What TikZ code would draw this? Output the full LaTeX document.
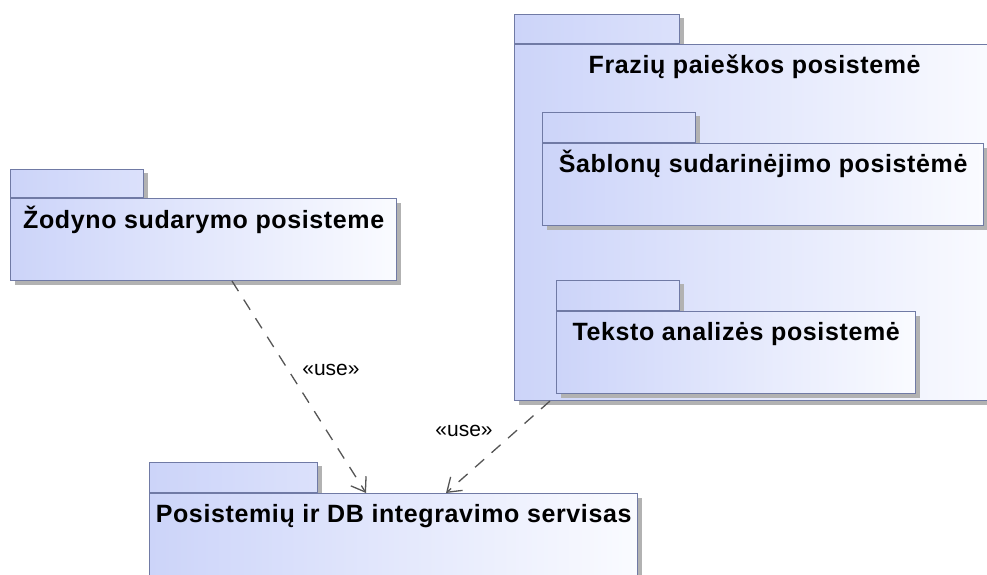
\documentclass[tikz,border=0pt]{standalone}
\usepackage{fontspec}
\setmainfont{Liberation Sans}
\usetikzlibrary{arrows.meta,shadows,positioning}

\definecolor{pkgline}{RGB}{112,122,165}
\definecolor{pkgfill}{RGB}{204,212,249}
\definecolor{pkglight}{RGB}{250,251,255}
\definecolor{useline}{RGB}{85,85,85}

\tikzset{
    pkgbody/.style={draw=pkgline, line width=1.3pt, rectangle, anchor=north west,
        left color=pkgfill, right color=pkglight,
        drop shadow={shadow xshift=4pt, shadow yshift=-4pt, fill=black!30, opacity=1}},
    pkgtab/.style={pkgbody, anchor=south west, right color=pkgfill!70!white},
    pkgtitle/.style={anchor=base, inner sep=0pt,
        font=\bfseries\fontsize{25}{28}\selectfont\addfontfeature{LetterSpace=2.5}},
    usedep/.style={draw=useline, line width=1.3pt, dash pattern=on 12pt off 10pt,
        -{Straight Barb[length=13pt, width=18pt]}},
    uselabel/.style={inner sep=0pt, font=\fontsize{21}{24}\selectfont}
}

\begin{document}
\begin{tikzpicture}[x=1pt, y=-1pt]
    \useasboundingbox (0,0) rectangle (987,574);
    \clip (0,0) rectangle (987,574);

    % Frazių paieškos posistemė
    \node (fraztab) [pkgtab, minimum width=165pt, minimum height=29pt] at (514,44) {};
    \node (fraz) [pkgbody, minimum width=480pt, minimum height=356pt] at (514,44) {};
    \node (fraztitle) [pkgtitle] at ([yshift=-29pt]fraz.north) {Frazių paieškos posistemė};

    \node (sabtab) [pkgtab, minimum width=153pt, minimum height=30pt] at (542,143) {};
    \node (sab) [pkgbody, minimum width=441pt, minimum height=82pt] at (542,143) {};
    \node (sabtitle) [pkgtitle] at ([yshift=-29pt]sab.north) {Šablonų sudarinėjimo posistėmė};

    \node (tekstab) [pkgtab, minimum width=123pt, minimum height=30pt] at (556,311) {};
    \node (teks) [pkgbody, minimum width=359pt, minimum height=82pt] at (556,311) {};
    \node (tekstitle) [pkgtitle] at ([yshift=-29pt]teks.north) {Teksto analizės posistemė};

    % Žodyno sudarymo posisteme
    \node (zodtab) [pkgtab, minimum width=133pt, minimum height=28pt] at (10,198) {};
    \node (zod) [pkgbody, minimum width=386pt, minimum height=82pt] at (10,198) {};
    \node (zodtitle) [pkgtitle] at ([yshift=-30pt]zod.north) {Žodyno sudarymo posisteme};

    % Posistemių ir DB integravimo servisas
    \node (integtab) [pkgtab, minimum width=168pt, minimum height=30pt] at (149,493) {};
    \node (integ) [pkgbody, minimum width=488pt, minimum height=100pt] at (149,493) {};
    \node (integtitle) [pkgtitle] at ([yshift=-29pt]integ.north) {Posistemių ir DB integravimo servisas};

    % use dependencies
    \coordinate (zodout) at (232,281);
    \coordinate (integin1) at (366,493);
    \coordinate (frazout) at (550,401);
    \coordinate (integin2) at (446,493);

    \draw[usedep] (zodout) -- (integin1);
    \draw[usedep] (frazout) -- (integin2);

    \node (use1) [uselabel] at (331,370) {«use»};
    \node (use2) [uselabel] at (464,431) {«use»};
\end{tikzpicture}
\end{document}
